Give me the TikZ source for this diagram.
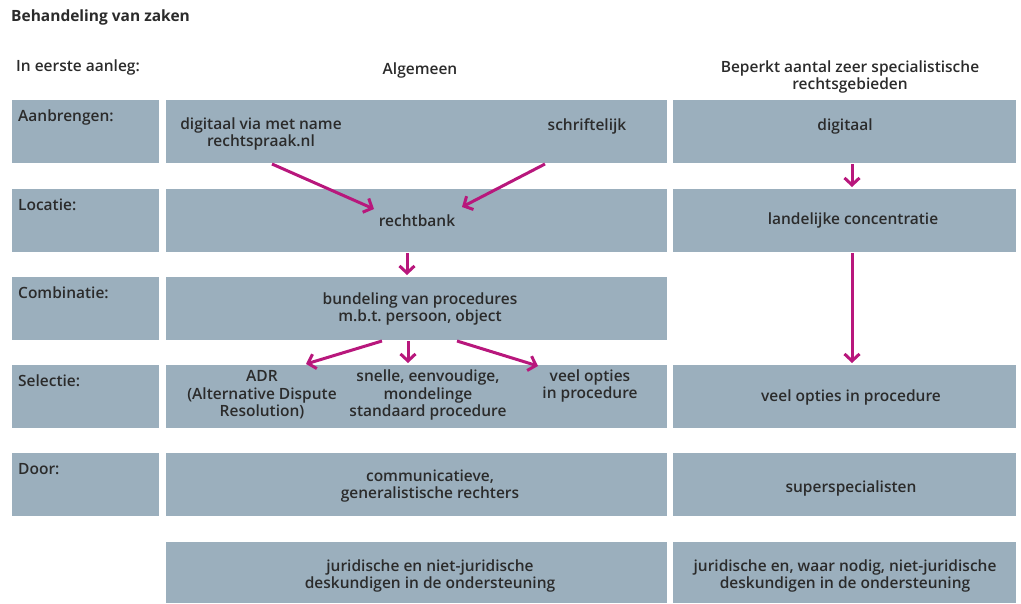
\documentclass[tikz,border=0pt]{standalone}
\usepackage{fontspec}
\IfFontExistsTF{Open Sans SemiBold}
  {\setmainfont{Open Sans SemiBold}[BoldFont={Open Sans Bold}]}
  {\IfFontExistsTF{Open Sans Semibold}
    {\setmainfont{Open Sans Semibold}[BoldFont={Open Sans Bold}]}
    {\setmainfont{Open Sans}[FakeBold=0.8]}}
\usetikzlibrary{arrows.meta}
\definecolor{vakkleur}{HTML}{9BAFBD}
\definecolor{roze}{HTML}{B8177C}
\definecolor{tekst}{HTML}{2B2B2B}
\tikzset{
  vak/.style={fill=vakkleur, draw=none, inner sep=0pt, anchor=north west, minimum height=63pt},
  txt/.style={text=tekst, font=\fontsize{15.5}{17.5}\selectfont, align=center, inner sep=0pt},
  kop/.style={txt, anchor=north west, align=left},
  pijl/.style={roze, line width=3pt, -{Straight Barb[length=7pt,width=15pt]}}
}
\begin{document}
\begin{tikzpicture}[x=1pt, y=-1pt]
\useasboundingbox (0,0) rectangle (1021,603);
% koppen
\node[kop, font=\fontsize{15.5}{17.5}\selectfont\bfseries] (titel) at (11,10) {Behandeling van zaken};
\node[kop] (aanleg) at (16,60) {In eerste aanleg:};
\node[txt] (algemeen) at (420,70) {Algemeen};
\node[txt] (beperkt) at (850,77) {Beperkt aantal zeer specialistische\\rechtsgebieden};
% linker kolom
\node[vak, minimum width=147pt] (l1) at (12,100) {};
\node[vak, minimum width=147pt] (l2) at (12,189) {};
\node[vak, minimum width=147pt] (l3) at (12,277) {};
\node[vak, minimum width=147pt] (l4) at (12,365) {};
\node[vak, minimum width=147pt] (l5) at (12,453) {};
\node[kop] at (18,110) {Aanbrengen:};
\node[kop] at (18,199) {Locatie:};
\node[kop] at (18,287) {Combinatie:};
\node[kop] at (18,375) {Selectie:};
\node[kop] at (18,463) {Door:};
% algemeen
\node[vak, minimum width=501pt] (m1) at (166,100) {};
\node[vak, minimum width=501pt] (m2) at (166,189) {};
\node[vak, minimum width=501pt] (m3) at (166,277) {};
\node[vak, minimum width=501pt] (m4) at (166,365) {};
\node[vak, minimum width=501pt] (m5) at (166,453) {};
\node[vak, minimum width=501pt, minimum height=61pt] (m6) at (166,542) {};
% specialistisch
\node[vak, minimum width=343pt] (r1) at (673,100) {};
\node[vak, minimum width=343pt] (r2) at (673,189) {};
\node[vak, minimum width=343pt] (r4) at (673,365) {};
\node[vak, minimum width=343pt] (r5) at (673,453) {};
\node[vak, minimum width=343pt, minimum height=61pt] (r6) at (673,542) {};
% teksten
\node[txt] (digitaalalg) at (261,134) {digitaal via met name\\rechtspraak.nl};
\node[txt] (schriftelijk) at (587,126) {schriftelijk};
\node[txt] (digitaal) at (845,126) {digitaal};
\node[txt] (rechtbank) at (417,221) {rechtbank};
\node[txt] (landelijk) at (853,220) {landelijke concentratie};
\node[txt] (bundeling) at (420,309) {bundeling van procedures\\m.b.t.\ persoon, object};
\node[txt] (adr) at (262,395) {ADR\\(Alternative Dispute\\Resolution)};
\node[txt] (snel) at (428,395) {snelle, eenvoudige,\\mondelinge\\standaard procedure};
\node[txt] (opties) at (590,386) {veel opties\\in procedure};
\node[txt] (optiesspec) at (851,397) {veel opties in procedure};
\node[txt] (rechters) at (430,486) {communicatieve,\\generalistische rechters};
\node[txt] (superspec) at (851,488) {superspecialisten};
\node[txt] (deskalg) at (430,576) {juridische en niet-juridische\\deskundigen in de ondersteuning};
\node[txt] (deskspec) at (845,576) {juridische en, waar nodig, niet-juridische\\deskundigen in de ondersteuning};
% pijlen
\coordinate (a1) at (272,164); \coordinate (a1e) at (374,209);
\coordinate (a2) at (545,164); \coordinate (a2e) at (462,207);
\coordinate (a3) at (407,253); \coordinate (a3e) at (407,275);
\coordinate (a4) at (852,164); \coordinate (a4e) at (852,187);
\coordinate (a5) at (852,253); \coordinate (a5e) at (852,363);
\coordinate (a6) at (382,341); \coordinate (a6e) at (306,364);
\coordinate (a7) at (408,341); \coordinate (a7e) at (408,363);
\coordinate (a8) at (457,341); \coordinate (a8e) at (538,366);
\draw[pijl] (a1) -- (a1e);
\draw[pijl] (a2) -- (a2e);
\draw[pijl] (a3) -- (a3e);
\draw[pijl] (a4) -- (a4e);
\draw[pijl] (a5) -- (a5e);
\draw[pijl] (a6) -- (a6e);
\draw[pijl] (a7) -- (a7e);
\draw[pijl] (a8) -- (a8e);
\end{tikzpicture}
\end{document}
